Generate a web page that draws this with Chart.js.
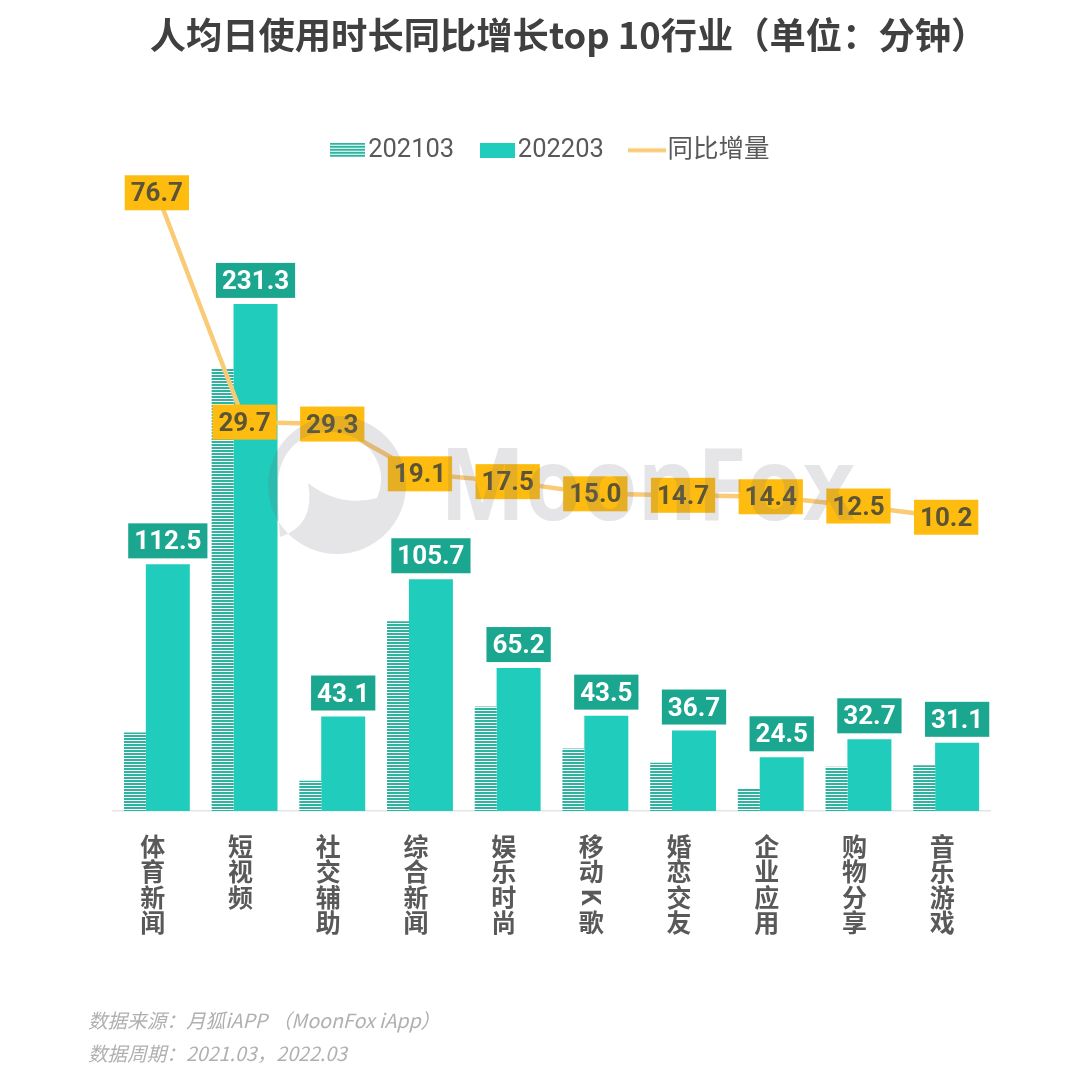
<!DOCTYPE html>
<html lang="zh-CN">
<head>
    <meta charset="UTF-8">
    <title>人均日使用时长同比增长top 10行业</title>
    <script src="https://cdn.jsdelivr.net/npm/chart.js"></script>
    <style>
        body {
            margin: 0;
            background: #fff;
        }
        .page {
            position: relative;
            width: 1080px;
            height: 1077px;
            overflow: hidden;
        }
        #chart {
            position: absolute;
            left: 0;
            top: 0;
        }
        .title {
            position: absolute;
            left: 0;
            top: 7px;
            width: 1137px;
            margin: 0;
            text-align: center;
            font: bold 36.3px/52px "Noto Sans CJK SC", sans-serif;
            color: #404040;
            white-space: nowrap;
        }
        .note {
            position: absolute;
            left: 88px;
            font: italic 19.6px/30px "Noto Sans CJK SC", sans-serif;
            color: #b0b0b0;
            white-space: nowrap;
        }
    </style>
</head>
<body>
    <div class="page">
        <canvas id="chart" width="1080" height="1077"></canvas>
        <h1 class="title">人均日使用时长同比增长top 10行业（单位：分钟）</h1>
        <div class="note" style="top: 1005px;">数据来源：月狐iAPP （MoonFox iApp）</div>
        <div class="note" style="top: 1038px;">数据周期：2021.03，2022.03</div>
    </div>

    <script>
        const categories = ['体育新闻', '短视频', '社交辅助', '综合新闻', '娱乐时尚', '移动K歌', '婚恋交友', '企业应用', '购物分享', '音乐游戏'];
        const values2021 = [35.8, 201.6, 13.8, 86.6, 47.7, 28.5, 22.0, 10.1, 20.2, 20.9];
        const values2022 = [112.5, 231.3, 43.1, 105.7, 65.2, 43.5, 36.7, 24.5, 32.7, 31.1];
        const increase = [76.7, 29.7, 29.3, 19.1, 17.5, 15.0, 14.7, 14.4, 12.5, 10.2];

        const TEAL = '#20ccbb';
        const TEAL_DARK = '#1ba68f';
        const STRIPE = '#2fb3a1';
        const LINE = '#f9cb76';
        const GOLD = '#ffbc10';
        const FONT = 'Roboto, "Noto Sans CJK SC", sans-serif';

        function makeCanvas(w, h) {
            const c = document.createElement('canvas');
            c.width = w;
            c.height = h;
            return c;
        }

        // horizontal stripes for the 2021 bars
        const stripeTile = makeCanvas(4, 3);
        const tileCtx = stripeTile.getContext('2d');
        tileCtx.fillStyle = '#fff';
        tileCtx.fillRect(0, 0, 4, 3);
        tileCtx.fillStyle = STRIPE;
        tileCtx.fillRect(0, 0, 4, 2);
        const stripes = tileCtx.createPattern(stripeTile, 'repeat');

        // legend swatches
        const swatchHatch = makeCanvas(35, 15);
        let sctx = swatchHatch.getContext('2d');
        sctx.fillStyle = stripes;
        sctx.fillRect(0, 0, 35, 15);
        const swatchSolid = makeCanvas(35, 15);
        sctx = swatchSolid.getContext('2d');
        sctx.fillStyle = TEAL;
        sctx.fillRect(0, 0, 35, 15);
        const swatchLine = makeCanvas(38, 15);
        sctx = swatchLine.getContext('2d');
        sctx.fillStyle = LINE;
        sctx.fillRect(0, 5.5, 38, 4);

        // boxed value labels
        function drawTag(ctx, text, cx, cy, fill, color) {
            ctx.font = 'bold 26px ' + FONT;
            const w = ctx.measureText(text).width + 12;
            ctx.fillStyle = fill;
            ctx.fillRect(cx - w / 2, cy - 17.5, w, 35);
            ctx.fillStyle = color;
            ctx.textAlign = 'center';
            ctx.textBaseline = 'middle';
            ctx.fillText(text, cx, cy + 2);
        }

        const valueTags = {
            id: 'valueTags',
            afterDatasetsDraw(chart) {
                const ctx = chart.ctx;
                ctx.save();
                chart.getDatasetMeta(1).data.forEach((bar, i) => {
                    drawTag(ctx, values2022[i].toFixed(1), bar.x, bar.y - 23.5, TEAL_DARK, '#fff');
                });
                chart.getDatasetMeta(2).data.forEach((pt, i) => {
                    drawTag(ctx, increase[i].toFixed(1), pt.x, pt.y, GOLD, '#5c5535');
                });
                ctx.restore();
            }
        };

        // vertical category labels, latin letters turned sideways
        const verticalLabels = {
            id: 'verticalLabels',
            afterDraw(chart) {
                const ctx = chart.ctx;
                const scale = chart.scales.x;
                ctx.save();
                ctx.font = 'bold 25px "Noto Sans CJK SC", sans-serif';
                ctx.fillStyle = '#595959';
                ctx.textAlign = 'center';
                ctx.textBaseline = 'middle';
                categories.forEach((label, i) => {
                    const x = scale.getPixelForTick(i) - 4;
                    Array.from(label).forEach((ch, j) => {
                        const y = 846 + j * 25.5;
                        if (/[A-Za-z]/.test(ch)) {
                            ctx.save();
                            ctx.translate(x, y);
                            ctx.rotate(Math.PI / 2);
                            ctx.fillText(ch, 0, 0);
                            ctx.restore();
                        } else {
                            ctx.fillText(ch, x, y);
                        }
                    });
                });
                ctx.restore();
            }
        };

        // MoonFox watermark, sits over everything
        const watermark = {
            id: 'watermark',
            afterDraw(chart) {
                const ctx = chart.ctx;
                ctx.save();
                ctx.fillStyle = 'rgba(110,110,120,0.18)';
                ctx.beginPath();
                ctx.arc(337, 485, 69, 0, Math.PI * 2);
                ctx.closePath();
                ctx.moveTo(308, 483);
                ctx.quadraticCurveTo(340, 508, 377, 498);
                ctx.bezierCurveTo(392, 465, 365, 432, 330, 432);
                ctx.bezierCurveTo(295, 432, 278, 458, 278, 485);
                ctx.quadraticCurveTo(278, 515, 280, 537);
                ctx.quadraticCurveTo(316, 525, 308, 483);
                ctx.closePath();
                ctx.fill('evenodd');
                ctx.font = 'bold 100px "Open Sans", sans-serif';
                ctx.textAlign = 'left';
                ctx.textBaseline = 'alphabetic';
                ctx.fillText('MoonFox', 440, 520, 415);
                ctx.restore();
            }
        };

        // legend sits a little right of the plot centre
        const legendNudge = {
            id: 'legendNudge',
            afterLayout(chart) {
                chart.legend.left += 3;
                chart.legend.right += 3;
            }
        };

        const ctx = document.getElementById('chart').getContext('2d');
        const chart = new Chart(ctx, {
            type: 'bar',
            data: {
                labels: categories,
                datasets: [
                    {
                        label: '202103',
                        data: values2021.map((v, i) => ({ x: i, y: v })),
                        backgroundColor: stripes,
                        grouped: false,
                        maxBarThickness: 22,
                        xAxisID: 'xOld',
                        yAxisID: 'y',
                        pointStyle: swatchHatch,
                        order: 2
                    },
                    {
                        label: '202203',
                        data: values2022.map((v, i) => ({ x: i, y: v })),
                        backgroundColor: TEAL,
                        grouped: false,
                        maxBarThickness: 44,
                        xAxisID: 'xNew',
                        yAxisID: 'y',
                        pointStyle: swatchSolid,
                        order: 2
                    },
                    {
                        type: 'line',
                        label: '同比增量',
                        data: increase,
                        borderColor: LINE,
                        borderWidth: 4.5,
                        tension: 0,
                        pointRadius: 0,
                        xAxisID: 'x',
                        yAxisID: 'yLine',
                        pointStyle: swatchLine,
                        order: 1
                    }
                ]
            },
            options: {
                responsive: false,
                animation: false,
                layout: {
                    padding: { left: 113, right: 90, top: 102.5, bottom: 266 }
                },
                scales: {
                    x: {
                        type: 'category',
                        grid: { display: false },
                        border: { display: true, color: '#e4e4e4', width: 1.5 },
                        ticks: { display: false },
                        afterFit(scale) {
                            scale.height = 0;
                        }
                    },
                    // hidden scales with the same span as x, moved so each bar lands on its slot
                    xOld: {
                        type: 'linear',
                        display: false,
                        offset: false,
                        min: -0.25,
                        max: 9.75
                    },
                    xNew: {
                        type: 'linear',
                        display: false,
                        offset: false,
                        min: -0.625,
                        max: 9.375
                    },
                    y: {
                        display: false,
                        min: 0,
                        max: 291
                    },
                    yLine: {
                        display: false,
                        min: -50,
                        max: 80.75
                    }
                },
                plugins: {
                    tooltip: { enabled: false },
                    legend: {
                        position: 'top',
                        labels: {
                            usePointStyle: true,
                            pointStyleWidth: 16,
                            padding: 35,
                            color: '#595959',
                            font: { family: FONT, size: 25.5 },
                            generateLabels(chart) {
                                return chart.data.datasets.map((d, i) => ({
                                    text: d.label,
                                    pointStyle: d.pointStyle,
                                    fontColor: '#595959',
                                    lineWidth: 0,
                                    datasetIndex: i
                                }));
                            }
                        }
                    }
                }
            },
            plugins: [valueTags, verticalLabels, watermark, legendNudge]
        });

        // legend row has wide gaps, keep its box short so the plot is not pushed down
        chart.legend.afterFit = function () {
            this.height = 72.5;
        };
        chart.update();
    </script>
</body>
</html>
